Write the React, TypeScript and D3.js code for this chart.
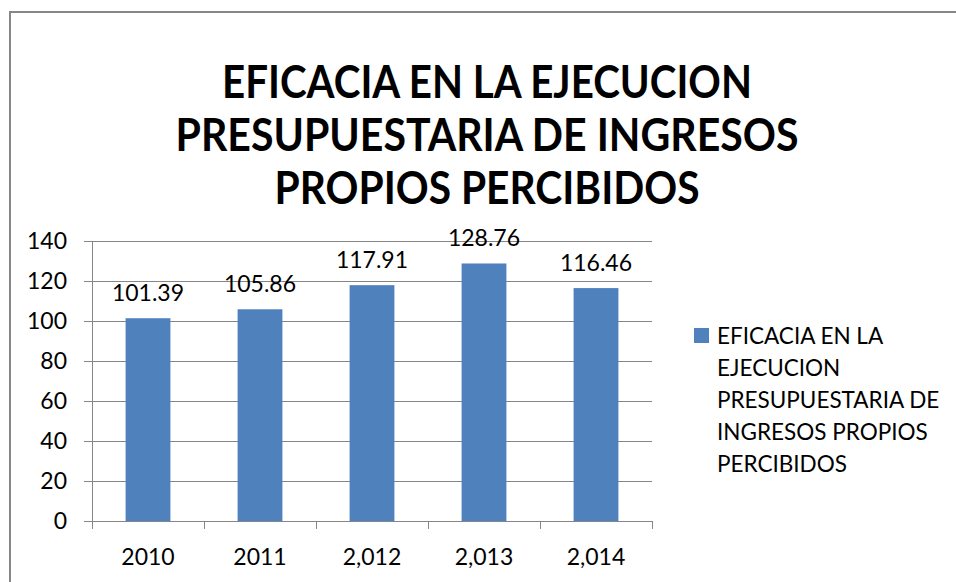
import React, { useRef, useEffect } from 'react';
import * as d3 from 'd3';

// Data
const categories = ['2010', '2011', '2,012', '2,013', '2,014'];
const values = [101.39, 105.86, 117.91, 128.76, 116.46];
const valueLabels = ['101.39', '105.86', '117.91', '128.76', '116.46'];
const yTicks = [0, 20, 40, 60, 80, 100, 120, 140];
const titleLines = ['EFICACIA EN LA EJECUCION', 'PRESUPUESTARIA DE INGRESOS', 'PROPIOS PERCIBIDOS'];
const legendLines = ['EFICACIA EN LA', 'EJECUCION', 'PRESUPUESTARIA DE', 'INGRESOS PROPIOS', 'PERCIBIDOS'];

const FONT = 'Lato, "Open Sans", sans-serif';
const GRID = '#868686';
const BAR = '#4F81BD';

const App = () => {
  const svgRef = useRef<SVGSVGElement>(null);

  useEffect(() => {
    const svg = d3.select(svgRef.current);
    svg.selectAll('*').remove();

    // Outer border (only left and top visible)
    svg.append('rect')
      .attr('x', 10).attr('y', 12)
      .attr('width', 1000).attr('height', 700)
      .attr('fill', 'white')
      .attr('stroke', GRID)
      .attr('stroke-width', 2);

    // Title
    const titleWidths = [530, 623, 425];
    svg.append('g')
      .selectAll('text')
      .data(titleLines)
      .join('text')
      .attr('x', 487)
      .attr('y', (d, i) => 98 + i * 53)
      .attr('text-anchor', 'middle')
      .attr('font-family', FONT)
      .attr('font-weight', 'bold')
      .attr('font-size', 46)
      .attr('textLength', (d, i) => titleWidths[i])
      .attr('lengthAdjust', 'spacingAndGlyphs')
      .attr('fill', '#000')
      .text(d => d);

    // Scales
    const left = 92, right = 652, top = 241, bottom = 521;
    const x = d3.scaleBand().domain(categories).range([left, right]).paddingInner(0.6).paddingOuter(0.3);
    const y = d3.scaleLinear().domain([0, 140]).range([bottom, top]);

    // Gridlines
    svg.append('g')
      .selectAll('line')
      .data(yTicks)
      .join('line')
      .attr('x1', left - 8).attr('x2', right)
      .attr('y1', d => y(d)).attr('y2', d => y(d))
      .attr('stroke', GRID).attr('stroke-width', 1)
      .attr('shape-rendering', 'crispEdges');

    // Y axis line
    svg.append('line')
      .attr('x1', left).attr('x2', left)
      .attr('y1', top).attr('y2', bottom)
      .attr('stroke', GRID).attr('shape-rendering', 'crispEdges');

    // Category ticks
    const step = x.step();
    svg.append('g')
      .selectAll('line')
      .data(d3.range(categories.length + 1))
      .join('line')
      .attr('x1', i => left + i * step).attr('x2', i => left + i * step)
      .attr('y1', bottom).attr('y2', bottom + 8)
      .attr('stroke', GRID).attr('shape-rendering', 'crispEdges');

    // Y tick labels
    svg.append('g')
      .selectAll('text')
      .data(yTicks)
      .join('text')
      .attr('x', 67)
      .attr('y', d => y(d) + 8)
      .attr('text-anchor', 'end')
      .attr('font-family', FONT)
      .attr('font-size', 23)
      .text(d => d);

    // X labels
    svg.append('g')
      .selectAll('text')
      .data(categories)
      .join('text')
      .attr('x', d => x(d)! + x.bandwidth() / 2)
      .attr('y', 565)
      .attr('text-anchor', 'middle')
      .attr('font-family', FONT)
      .attr('font-size', 23)
      .text(d => d);

    // Bars
    svg.append('g')
      .selectAll('rect')
      .data(values)
      .join('rect')
      .attr('x', (d, i) => x(categories[i])!)
      .attr('y', d => y(d))
      .attr('width', x.bandwidth())
      .attr('height', d => bottom - y(d))
      .attr('fill', BAR);

    // Data labels
    svg.append('g')
      .selectAll('text')
      .data(values)
      .join('text')
      .attr('x', (d, i) => x(categories[i])! + x.bandwidth() / 2)
      .attr('y', d => y(d) - 17)
      .attr('text-anchor', 'middle')
      .attr('font-family', FONT)
      .attr('font-size', 23)
      .text((d, i) => valueLabels[i]);

    // Legend
    svg.append('rect')
      .attr('x', 694).attr('y', 328)
      .attr('width', 15).attr('height', 15)
      .attr('fill', BAR);

    svg.append('g')
      .selectAll('text')
      .data(legendLines)
      .join('text')
      .attr('x', 717)
      .attr('y', (d, i) => 344 + i * 32)
      .attr('font-family', FONT)
      .attr('font-size', 22.5)
      .text(d => d);
  }, []);

  return (
    <svg
      ref={svgRef}
      width={956}
      height={582}
      style={{ position: 'absolute', left: 0, top: 0, background: 'white' }}
    />
  );
};

export default App;
